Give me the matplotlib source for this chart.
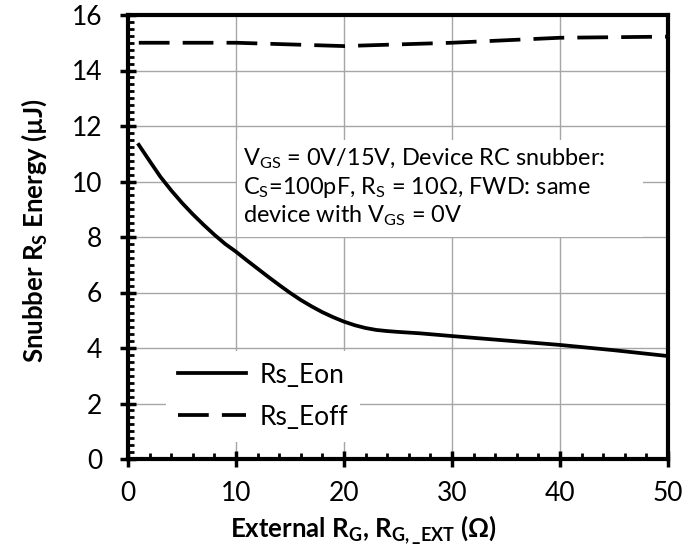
import matplotlib
matplotlib.use("Agg")
import matplotlib.pyplot as plt
from matplotlib.patches import Rectangle
from matplotlib.ticker import MultipleLocator

# Valores
rg_on = [1, 2, 3, 4, 5, 6, 7, 8, 9, 10, 11, 12, 13, 14, 15, 16, 17, 18, 19, 20,
         21, 22, 23, 24, 25, 27, 30, 35, 40, 45, 50]
e_on = [11.32, 10.74, 10.17, 9.68, 9.23, 8.82, 8.44, 8.08, 7.75, 7.47, 7.16,
        6.86, 6.56, 6.27, 5.99, 5.73, 5.50, 5.29, 5.11, 4.95, 4.82, 4.72, 4.65,
        4.61, 4.58, 4.53, 4.43, 4.27, 4.11, 3.92, 3.71]
rg_off = [1, 10, 20, 30, 40, 50]
e_off = [15.0, 15.0, 14.88, 15.0, 15.18, 15.22]

plt.rcParams['font.family'] = ['Lato', 'DejaVu Sans']
plt.rcParams['mathtext.fontset'] = 'custom'
plt.rcParams['mathtext.rm'] = 'Lato'
plt.rcParams['mathtext.default'] = 'regular'

fig = plt.figure(figsize=(6.99, 5.5), dpi=100)
ax = fig.add_axes([128 / 699, 1 - 459 / 550, 540 / 699, 444 / 550])

ax.plot(rg_on, e_on, color="black", lw=2.7, label="Rs_Eon", zorder=3,
        solid_joinstyle="round")
ax.plot(rg_off, e_off, color="black", lw=2.7, ls=(0, (8.2, 3.5)),
        label="Rs_Eoff", zorder=3)

ax.set_xlim(0, 50)
ax.set_ylim(0, 16)
ax.xaxis.set_major_locator(MultipleLocator(10))
ax.xaxis.set_minor_locator(MultipleLocator(2))
ax.yaxis.set_major_locator(MultipleLocator(2))
ax.yaxis.set_minor_locator(MultipleLocator(0.25))

ax.grid(True, which="major", color="#a6a6a6", lw=1.0, zorder=0)
for s in ax.spines.values():
    s.set_linewidth(3)
    s.set_zorder(4)

ax.tick_params(which="major", direction="inout", length=11, width=2.5,
               labelsize=19)
ax.tick_params(which="minor", direction="in", length=4, width=2)
ax.tick_params(axis="y", which="major", pad=13)
ax.tick_params(axis="x", which="major", pad=10)

ax.set_xlabel("External R$_G$, R$_{G,\\_EXT}$ ($\\Omega$)", fontsize=18.5,
              fontweight="bold", labelpad=6)
ax.xaxis.label.set_x(0.435)
ax.set_ylabel("Snubber R$_S$ Energy (µJ)", fontsize=18.5, fontweight="bold",
              labelpad=16)
ax.yaxis.label.set_y(0.515)

# cuadro blanco del texto
ax.add_patch(Rectangle((0.202, 0.5), 0.752, 0.2185, transform=ax.transAxes,
                       facecolor="white", edgecolor="none", zorder=2))
nota = ("V$_{GS}$ = 0V/15V, Device RC snubber:\n"
        "C$_S$=100pF, R$_S$ = 10Ω, FWD: same\n"
        "device with V$_{GS}$ = 0V")
ax.text(0.213, 0.703, nota, transform=ax.transAxes, fontsize=16.9,
        va="top", ha="left", linespacing=1.2, zorder=5)

leg = ax.legend(loc="upper left", bbox_to_anchor=(0.07, 0.244), fontsize=19,
                handlelength=2.6, handletextpad=0.5, labelspacing=0.65,
                frameon=True, fancybox=False, borderpad=0.45,
                borderaxespad=0)
leg.get_frame().set_facecolor("white")
leg.get_frame().set_edgecolor("none")
leg.get_frame().set_alpha(1)
leg.set_zorder(5)

fig.savefig("out.png", dpi=100)
